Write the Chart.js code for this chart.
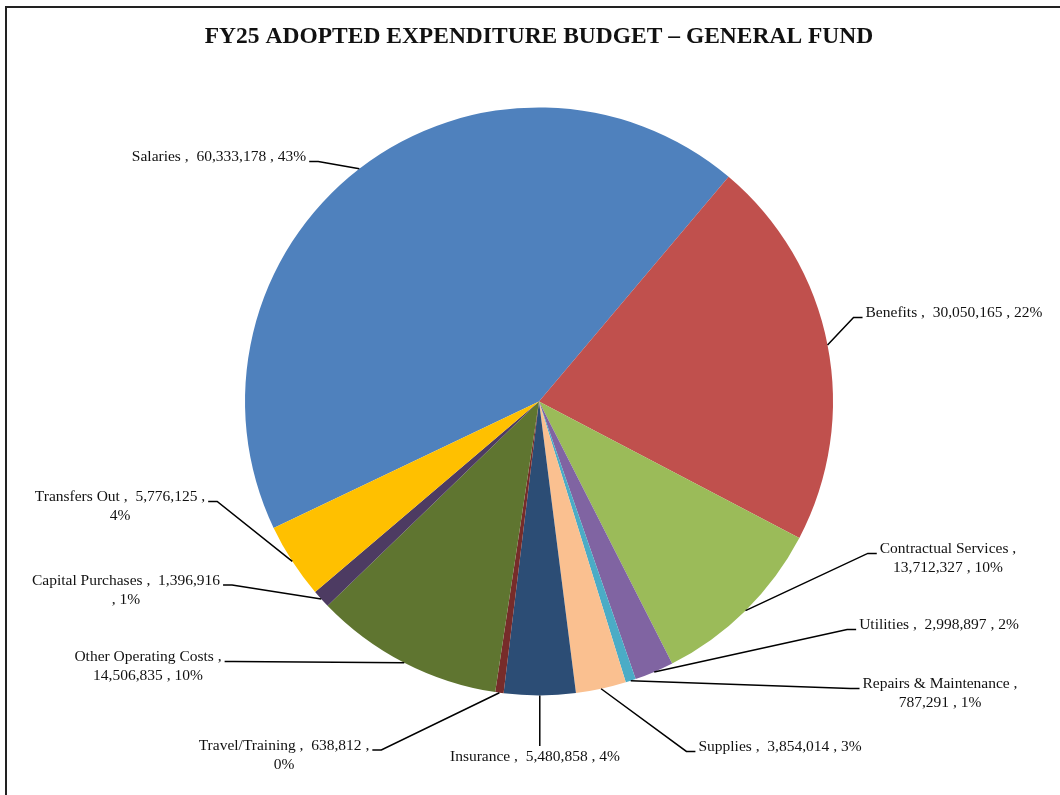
<!DOCTYPE html>
<html>
<head>
<meta charset="utf-8">
<script src="https://cdn.jsdelivr.net/npm/chart.js@4"></script>
<style>
  html, body { margin: 0; padding: 0; background: #fff; }
  #wrap { width: 1060px; height: 795px; }
</style>
</head>
<body>
<div id="wrap"><canvas id="budgetPie" width="1060" height="795"></canvas></div>
<script>
const categories = [
  'Salaries', 'Benefits', 'Contractual Services', 'Utilities', 'Repairs & Maintenance',
  'Supplies', 'Insurance', 'Travel/Training', 'Other Operating Costs', 'Capital Purchases', 'Transfers Out'
];
const amounts = [
  60333178, 30050165, 13712327, 2998897, 787291,
  3854014, 5480858, 638812, 14506835, 1396916, 5776125
];
const sliceColors = [
  '#4f81bd', '#c0504d', '#9bbb59', '#8064a2', '#4bacc6',
  '#fac090', '#2c4d75', '#772c2a', '#5f7530', '#4d3b62', '#ffc000'
];
const titleText = 'FY25 ADOPTED EXPENDITURE BUDGET \u2013 GENERAL FUND';

// how each label wraps: 0 one line, 1 after name, 2 after value, 3 before last comma
const labelWrap = [0, 0, 1, 0, 1, 0, 0, 2, 1, 3, 2];
// label box centre relative to pie centre, and which side the leader line meets
const labelSpots = [
  [-320, -244, 'right'], [415, -88, 'left'], [409, 157.5, 'left'], [400, 224, 'left'],
  [401, 292.5, 'left'], [241, 346, 'left'], [-4, 356, 'top'], [-255, 354, 'right'],
  [-391, 265.5, 'right'], [-413, 189, 'right'], [-419, 105.5, 'right']
];

const LABEL_FONT = '15.5px "Liberation Serif", "DejaVu Serif", serif';
const LINE_H = 19;

const fmt = (v) => v.toLocaleString('en-US');

const labelLines = (i, total) => {
  const name = categories[i];
  const val = fmt(amounts[i]);
  const pct = Math.round(amounts[i] / total * 100) + '%';
  switch (labelWrap[i]) {
    case 1: return [name + ' ,', val + ' , ' + pct];
    case 2: return [name + ' ,  ' + val + ' ,', pct];
    case 3: return [name + ' ,  ' + val, ', ' + pct];
    default: return [name + ' ,  ' + val + ' , ' + pct];
  }
};

const framePlugin = {
  id: 'frame',
  beforeDraw(chart) {
    const ctx = chart.ctx;
    ctx.save();
    ctx.fillStyle = '#fff';
    ctx.fillRect(0, 0, chart.width, chart.height);
    ctx.strokeStyle = '#222';
    ctx.lineWidth = 2;
    ctx.strokeRect(6, 7, chart.width + 20, chart.height + 20);
    ctx.restore();
  }
};

const leaderLabels = {
  id: 'leaderLabels',
  afterDatasetsDraw(chart) {
    const ctx = chart.ctx;
    const meta = chart.getDatasetMeta(0);
    const total = amounts.reduce((a, b) => a + b, 0);
    ctx.save();
    ctx.font = LABEL_FONT;
    ctx.fillStyle = '#111';
    ctx.strokeStyle = '#000';
    ctx.lineWidth = 1.5;
    ctx.textAlign = 'center';
    ctx.textBaseline = 'middle';

    meta.data.forEach((arc, i) => {
      const mid = (arc.startAngle + arc.endAngle) / 2;
      const ex = arc.x + Math.cos(mid) * arc.outerRadius;
      const ey = arc.y + Math.sin(mid) * arc.outerRadius;

      const lines = labelLines(i, total);
      const [dx, dy, side] = labelSpots[i];
      const cx = arc.x + dx;
      const cy = arc.y + dy;
      const top = cy - (lines.length * LINE_H) / 2;
      const firstY = top + LINE_H / 2;
      const w1 = ctx.measureText(lines[0]).width;

      ctx.beginPath();
      if (side === 'top') {
        ctx.moveTo(ex, ey);
        ctx.lineTo(ex, top - 2);
      } else {
        const dir = side === 'right' ? 1 : -1;
        const endX = cx + dir * (w1 / 2 + 3);
        const endY = firstY + 4;
        const elbowX = endX + dir * 9;
        ctx.moveTo(endX, endY);
        ctx.lineTo(elbowX, endY);
        ctx.lineTo(ex, ey);
      }
      ctx.stroke();

      lines.forEach((t, k) => ctx.fillText(t, cx, firstY + k * LINE_H));
    });
    ctx.restore();
  }
};

new Chart(document.getElementById('budgetPie'), {
  type: 'pie',
  data: {
    labels: categories,
    datasets: [{
      data: amounts,
      backgroundColor: sliceColors,
      borderWidth: 0,
      hoverOffset: 0
    }]
  },
  options: {
    responsive: false,
    animation: false,
    events: [],
    rotation: 244.5,
    radius: 294,
    layout: {
      padding: { left: 18, right: 0, top: 0, bottom: 53.4 }
    },
    plugins: {
      legend: { display: false },
      tooltip: { enabled: false },
      title: {
        display: true,
        text: titleText,
        color: '#111',
        font: { family: '"Liberation Serif", "DejaVu Serif", serif', size: 23.5, weight: 'bold', lineHeight: 1.2 },
        padding: { top: 23, bottom: 10 }
      }
    }
  },
  plugins: [framePlugin, leaderLabels]
});
</script>
</body>
</html>
